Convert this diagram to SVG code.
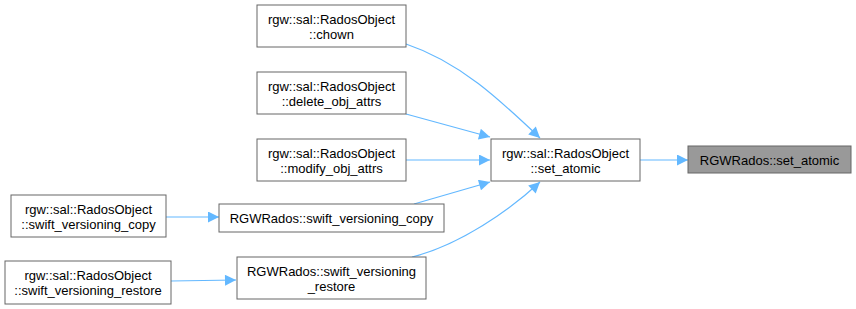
<svg xmlns="http://www.w3.org/2000/svg" width="856" height="309" viewBox="0 0 856 309">
<defs>
<style>
.node rect{fill:#fff;stroke:#666;stroke-width:1}
.node.hl rect{fill:#999;stroke:#666}
text{font-family:"Liberation Sans",Arial,sans-serif;font-size:13px;fill:#000;text-anchor:middle}
.edges path{fill:none;stroke:#63b8ff;stroke-width:1.2}
</style>
<marker id="ah" viewBox="0 0 10 10" refX="10" refY="5" markerWidth="13" markerHeight="11" markerUnits="userSpaceOnUse" orient="auto">
<path d="M0,0 L10,5 L0,10 z" fill="#63b8ff"/>
</marker>
</defs>
<rect width="856" height="309" fill="#fff"/>
<g class="edges">
<path d="M406,44 C460,62 500,100 540,138" marker-end="url(#ah)"/>
<path d="M406,114 L490,137" marker-end="url(#ah)"/>
<path d="M406,160 L490,160" marker-end="url(#ah)"/>
<path d="M414,204 L490,182" marker-end="url(#ah)"/>
<path d="M412,257 C460,245 510,210 540,182" marker-end="url(#ah)"/>
<path d="M640,160 L688,160" marker-end="url(#ah)"/>
<path d="M166,217 L219,217" marker-end="url(#ah)"/>
<path d="M171,281 L236,280" marker-end="url(#ah)"/>
</g>
<g id="chown" class="node"><rect x="257" y="5" width="149" height="42"/><text x="331.5" y="23.5">rgw::sal::RadosObject</text><text x="331.5" y="39">::chown</text></g>
<g id="delete_obj_attrs" class="node"><rect x="257" y="72" width="149" height="42"/><text x="331.5" y="90.5">rgw::sal::RadosObject</text><text x="331.5" y="106">::delete_obj_attrs</text></g>
<g id="modify_obj_attrs" class="node"><rect x="257" y="139" width="149" height="42"/><text x="331.5" y="157.5">rgw::sal::RadosObject</text><text x="331.5" y="173">::modify_obj_attrs</text></g>
<g id="obj_set_atomic" class="node"><rect x="491" y="139" width="149" height="42"/><text x="565.5" y="157.5">rgw::sal::RadosObject</text><text x="565.5" y="173">::set_atomic</text></g>
<g id="rados_set_atomic" class="node hl"><rect x="688" y="146" width="163" height="27"/><text x="769.5" y="164.5">RGWRados::set_atomic</text></g>
<g id="obj_swift_copy" class="node"><rect x="11" y="195" width="155" height="42"/><text x="88.5" y="213.5">rgw::sal::RadosObject</text><text x="88.5" y="229">::swift_versioning_copy</text></g>
<g id="rados_swift_copy" class="node"><rect x="219" y="204" width="225" height="28"/><text x="331.5" y="222.5">RGWRados::swift_versioning_copy</text></g>
<g id="obj_swift_restore" class="node"><rect x="5" y="261" width="166" height="43"/><text x="88" y="279.5">rgw::sal::RadosObject</text><text x="88" y="295">::swift_versioning_restore</text></g>
<g id="rados_swift_restore" class="node"><rect x="237" y="257" width="189" height="42"/><text x="331.5" y="275.5">RGWRados::swift_versioning</text><text x="331.5" y="291">_restore</text></g>
</svg>
